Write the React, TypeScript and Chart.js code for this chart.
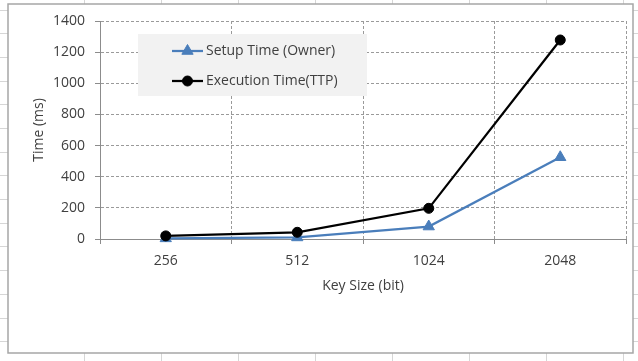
import React, { useEffect, useRef } from "react";
import { Chart, registerables } from "chart.js";

Chart.register(...registerables);

// Key sizes on the category axis
const keySizes = ["256", "512", "1024", "2048"];
// Timings in milliseconds
const setupTimeOwner = [4, 10, 80, 525];
const executionTimeTTP = [20, 43, 197, 1278];
// Value-axis ticks
const yTicks = [0, 200, 400, 600, 800, 1000, 1200, 1400];

const seriesNames = ["Setup Time (Owner)", "Execution Time(TTP)"];

const FONT = "'Open Sans', Lato, sans-serif";
const FONT_SIZE = 14;
const TEXT = "#404040";
const BLUE = "#4a7ebb";
const GRID = "#9a9a9a";
const AXIS = "#8c8c8c";

// Worksheet cells behind the chart object, then the white chart frame
const sheetPlugin = {
  id: "sheetBackground",
  beforeDraw(chart: any) {
    const { ctx, width, height } = chart;
    ctx.save();
    ctx.fillStyle = "#ffffff";
    ctx.fillRect(0, 0, width, height);
    ctx.strokeStyle = "#d6d6d6";
    ctx.lineWidth = 1;
    for (let x = 84.5; x < width; x += 77) {
      ctx.beginPath();
      ctx.moveTo(x, 0);
      ctx.lineTo(x, height);
      ctx.stroke();
    }
    for (let y = 9.5; y < height; y += 23.7) {
      ctx.beginPath();
      ctx.moveTo(0, Math.round(y) + 0.5);
      ctx.lineTo(width, Math.round(y) + 0.5);
      ctx.stroke();
    }
    ctx.fillStyle = "#ffffff";
    ctx.fillRect(8, 4, 625, 349);
    ctx.strokeStyle = "#a6a6a6";
    ctx.lineWidth = 1.5;
    ctx.strokeRect(8, 4, 625, 349);
    ctx.restore();
  },
};

function drawMarker(ctx: CanvasRenderingContext2D, style: string, x: number, y: number, r: number) {
  ctx.beginPath();
  if (style === "triangle") {
    let rad = 0;
    ctx.moveTo(x + Math.sin(rad) * r, y - Math.cos(rad) * r);
    rad += (2 * Math.PI) / 3;
    ctx.lineTo(x + Math.sin(rad) * r, y - Math.cos(rad) * r);
    rad += (2 * Math.PI) / 3;
    ctx.lineTo(x + Math.sin(rad) * r, y - Math.cos(rad) * r);
    ctx.closePath();
  } else {
    ctx.arc(x, y, r, 0, Math.PI * 2);
  }
  ctx.fill();
  ctx.stroke();
}

// Grey legend panel inside the plot area
const insetLegendPlugin = {
  id: "insetLegend",
  beforeDatasetsDraw(chart: any) {
    const { ctx, chartArea } = chart;
    const left = chartArea.left + 38;
    const top = chartArea.top + 13;
    ctx.save();
    ctx.fillStyle = "#f2f2f2";
    ctx.fillRect(left, top, 229, 62);
    chart.data.datasets.forEach((ds: any, i: number) => {
      const y = top + 17 + i * 30;
      ctx.strokeStyle = ds.borderColor;
      ctx.lineWidth = ds.borderWidth;
      ctx.beginPath();
      ctx.moveTo(left + 34, y);
      ctx.lineTo(left + 65, y);
      ctx.stroke();
      ctx.fillStyle = ds.pointBackgroundColor;
      ctx.lineWidth = 1;
      drawMarker(ctx, ds.pointStyle, left + 49.5, y, ds.pointRadius);
      ctx.fillStyle = TEXT;
      ctx.font = `${FONT_SIZE}px ${FONT}`;
      ctx.textBaseline = "middle";
      ctx.textAlign = "left";
      ctx.fillText(ds.label, left + 68, y);
    });
    ctx.restore();
  },
};

export default function App() {
  const canvasRef = useRef<HTMLCanvasElement | null>(null);

  useEffect(() => {
    const canvas = canvasRef.current;
    if (!canvas) return;
    const chart = new Chart(canvas, {
      type: "line",
      data: {
        labels: keySizes,
        datasets: [
          {
            label: seriesNames[0],
            data: setupTimeOwner,
            borderColor: BLUE,
            backgroundColor: BLUE,
            pointBackgroundColor: BLUE,
            pointBorderColor: BLUE,
            pointStyle: "triangle",
            pointRadius: 6.5,
            pointBorderWidth: 1,
            borderWidth: 2.25,
            tension: 0,
            clip: false,
            order: 1,
          },
          {
            label: seriesNames[1],
            data: executionTimeTTP,
            borderColor: "#000000",
            backgroundColor: "#000000",
            pointBackgroundColor: "#000000",
            pointBorderColor: "#000000",
            pointStyle: "circle",
            pointRadius: 5,
            pointBorderWidth: 1,
            borderWidth: 2.25,
            tension: 0,
            clip: false,
            order: 0,
          },
        ],
      },
      options: {
        animation: false,
        responsive: false,
        events: [],
        layout: { padding: { left: 8, top: 21, right: 12, bottom: 8 } },
        plugins: {
          legend: { display: false },
          tooltip: { enabled: false },
        },
        scales: {
          x: {
            type: "category",
            offset: true,
            afterFit: (s: any) => {
              s.height = 114;
            },
            grid: {
              offset: true,
              color: GRID,
              lineWidth: 1,
              tickLength: 5,
              tickColor: AXIS,
              tickBorderDash: [],
            },
            border: { color: AXIS, width: 1, dash: [3, 2] },
            ticks: {
              color: TEXT,
              font: { family: FONT, size: FONT_SIZE },
              padding: 9,
              maxRotation: 0,
            },
            title: {
              display: true,
              text: "Key Size (bit)",
              color: TEXT,
              font: { family: FONT, size: FONT_SIZE },
              padding: { top: 0, bottom: 59 },
            },
          },
          y: {
            min: 0,
            max: 1400,
            afterFit: (s: any) => {
              s.width = 92;
            },
            afterBuildTicks: (s: any) => {
              s.ticks = yTicks.map((v) => ({ value: v }));
            },
            grid: {
              color: GRID,
              lineWidth: 1,
              tickLength: 5,
              tickColor: AXIS,
              tickBorderDash: [],
            },
            border: { color: AXIS, width: 1, dash: [3, 2] },
            ticks: {
              color: TEXT,
              font: { family: FONT, size: FONT_SIZE },
              padding: 10,
              callback: (v: any) => String(v),
            },
            title: {
              display: true,
              text: "Time (ms)",
              color: TEXT,
              font: { family: FONT, size: FONT_SIZE },
              padding: { top: 23, bottom: 0 },
            },
          },
        },
      },
      plugins: [sheetPlugin, insetLegendPlugin],
    });
    return () => chart.destroy();
  }, []);

  return (
    <div style={{ position: "absolute", left: 0, top: 0, width: 638, height: 361 }}>
      <canvas ref={canvasRef} width={638} height={361} style={{ display: "block" }} />
    </div>
  );
}
